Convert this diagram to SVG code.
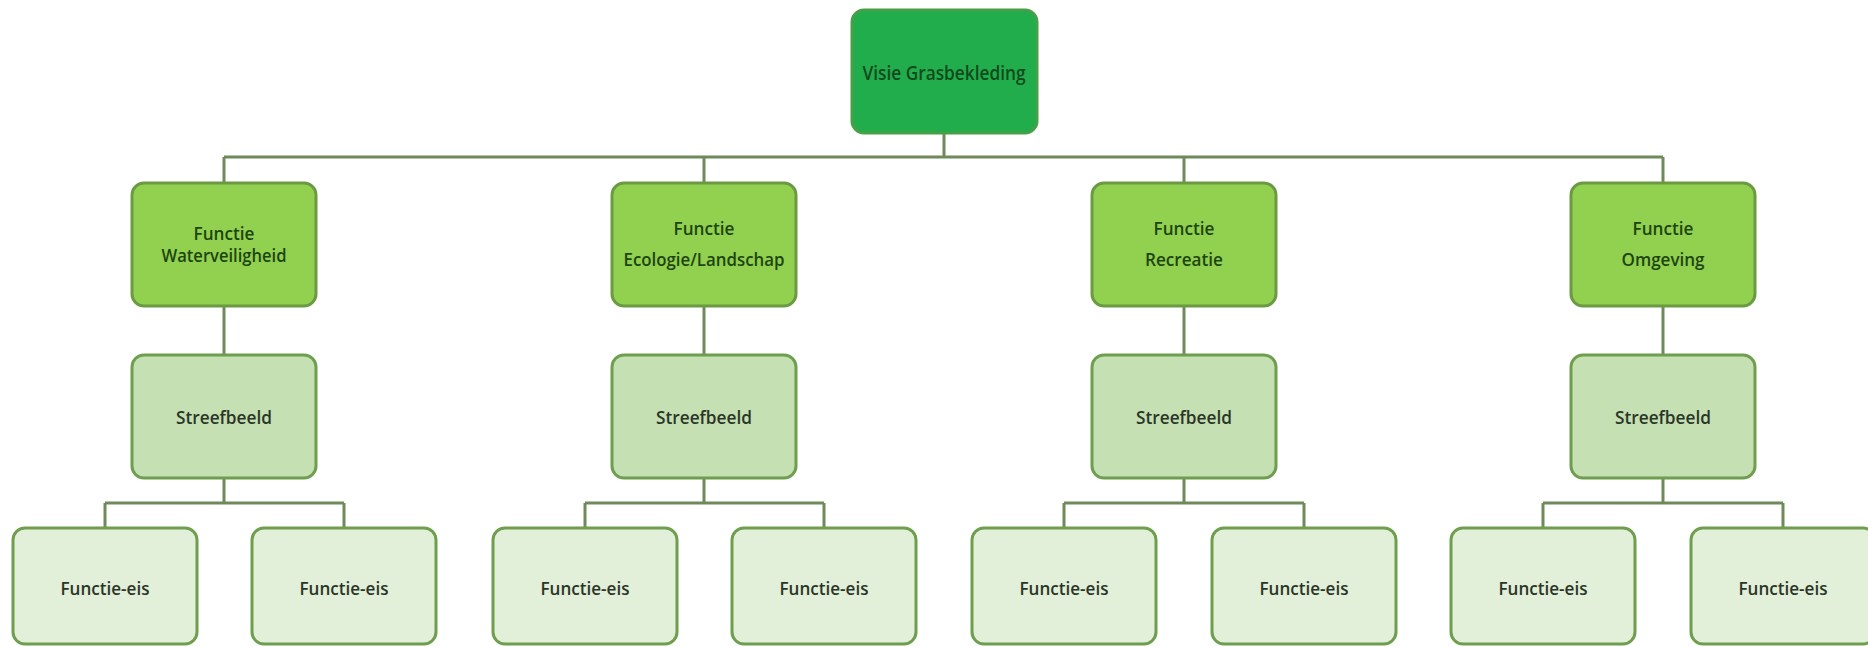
<svg xmlns="http://www.w3.org/2000/svg" width="1868" height="647" viewBox="0 0 1868 647">
<style>
.box{stroke-width:3}
.top{fill:#21ad4b;stroke:#46a047}
.fn{fill:#92d050;stroke:#6b9a43}
.sb{fill:#c5e0b3;stroke:#6f9e4f}
.leaf{fill:#e2efd9;stroke:#6f9e4f}
text{font-family:"Open Sans","Noto Sans",sans-serif;text-anchor:middle;dominant-baseline:central}
.tt{font-size:20px;fill:#124a1d;font-weight:600}
.ft{font-size:18px;fill:#1d4510;font-weight:600}
.st{font-size:18px;fill:#2b3527;font-weight:600}
.conn{fill:none;stroke:#6e8a5a;stroke-width:3}
</style>
<rect width="1868" height="647" fill="#ffffff"/>
<g id="connectors" class="conn">
<path d="M944,133 V157 M224,157 H1663 M224,157 V183 M704,157 V183 M1184,157 V183 M1663,157 V183"/>
<path d="M224,306 V355 M704,306 V355 M1184,306 V355 M1663,306 V355"/>
<path d="M224,478 V503 M105,503 H344 M105,503 V528 M344,503 V528"/>
<path d="M704,478 V503 M585,503 H824 M585,503 V528 M824,503 V528"/>
<path d="M1184,478 V503 M1064,503 H1304 M1064,503 V528 M1304,503 V528"/>
<path d="M1663,478 V503 M1543,503 H1783 M1543,503 V528 M1783,503 V528"/>
</g>
<g id="visie">
<rect class="box top" x="852" y="10" width="185" height="123" rx="12"/>
<text class="tt" x="944" y="72" textLength="163" lengthAdjust="spacingAndGlyphs">Visie Grasbekleding</text>
</g>
<g id="functie-waterveiligheid">
<rect class="box fn" x="132" y="183" width="184" height="123" rx="12"/>
<text class="ft" x="224" y="233" textLength="61" lengthAdjust="spacingAndGlyphs">Functie</text>
<text class="ft" x="224" y="255" textLength="125" lengthAdjust="spacingAndGlyphs">Waterveiligheid</text>
</g>
<g id="functie-ecologie">
<rect class="box fn" x="612" y="183" width="184" height="123" rx="12"/>
<text class="ft" x="704" y="228" textLength="61" lengthAdjust="spacingAndGlyphs">Functie</text>
<text class="ft" x="704" y="259" textLength="161" lengthAdjust="spacingAndGlyphs">Ecologie/Landschap</text>
</g>
<g id="functie-recreatie">
<rect class="box fn" x="1092" y="183" width="184" height="123" rx="12"/>
<text class="ft" x="1184" y="228" textLength="61" lengthAdjust="spacingAndGlyphs">Functie</text>
<text class="ft" x="1184" y="259" textLength="78" lengthAdjust="spacingAndGlyphs">Recreatie</text>
</g>
<g id="functie-omgeving">
<rect class="box fn" x="1571" y="183" width="184" height="123" rx="12"/>
<text class="ft" x="1663" y="228" textLength="61" lengthAdjust="spacingAndGlyphs">Functie</text>
<text class="ft" x="1663" y="259" textLength="83" lengthAdjust="spacingAndGlyphs">Omgeving</text>
</g>
<g id="streefbeeld-1">
<rect class="box sb" x="132" y="355" width="184" height="123" rx="12"/>
<text class="st" x="224" y="417" textLength="96" lengthAdjust="spacingAndGlyphs">Streefbeeld</text>
</g>
<g id="streefbeeld-2">
<rect class="box sb" x="612" y="355" width="184" height="123" rx="12"/>
<text class="st" x="704" y="417" textLength="96" lengthAdjust="spacingAndGlyphs">Streefbeeld</text>
</g>
<g id="streefbeeld-3">
<rect class="box sb" x="1092" y="355" width="184" height="123" rx="12"/>
<text class="st" x="1184" y="417" textLength="96" lengthAdjust="spacingAndGlyphs">Streefbeeld</text>
</g>
<g id="streefbeeld-4">
<rect class="box sb" x="1571" y="355" width="184" height="123" rx="12"/>
<text class="st" x="1663" y="417" textLength="96" lengthAdjust="spacingAndGlyphs">Streefbeeld</text>
</g>
<g id="eis-1a"><rect class="box leaf" x="13" y="528" width="184" height="116" rx="12"/><text class="st" x="105" y="588" textLength="89" lengthAdjust="spacingAndGlyphs">Functie-eis</text></g>
<g id="eis-1b"><rect class="box leaf" x="252" y="528" width="184" height="116" rx="12"/><text class="st" x="344" y="588" textLength="89" lengthAdjust="spacingAndGlyphs">Functie-eis</text></g>
<g id="eis-2a"><rect class="box leaf" x="493" y="528" width="184" height="116" rx="12"/><text class="st" x="585" y="588" textLength="89" lengthAdjust="spacingAndGlyphs">Functie-eis</text></g>
<g id="eis-2b"><rect class="box leaf" x="732" y="528" width="184" height="116" rx="12"/><text class="st" x="824" y="588" textLength="89" lengthAdjust="spacingAndGlyphs">Functie-eis</text></g>
<g id="eis-3a"><rect class="box leaf" x="972" y="528" width="184" height="116" rx="12"/><text class="st" x="1064" y="588" textLength="89" lengthAdjust="spacingAndGlyphs">Functie-eis</text></g>
<g id="eis-3b"><rect class="box leaf" x="1212" y="528" width="184" height="116" rx="12"/><text class="st" x="1304" y="588" textLength="89" lengthAdjust="spacingAndGlyphs">Functie-eis</text></g>
<g id="eis-4a"><rect class="box leaf" x="1451" y="528" width="184" height="116" rx="12"/><text class="st" x="1543" y="588" textLength="89" lengthAdjust="spacingAndGlyphs">Functie-eis</text></g>
<g id="eis-4b"><rect class="box leaf" x="1691" y="528" width="184" height="116" rx="12"/><text class="st" x="1783" y="588" textLength="89" lengthAdjust="spacingAndGlyphs">Functie-eis</text></g>
</svg>
